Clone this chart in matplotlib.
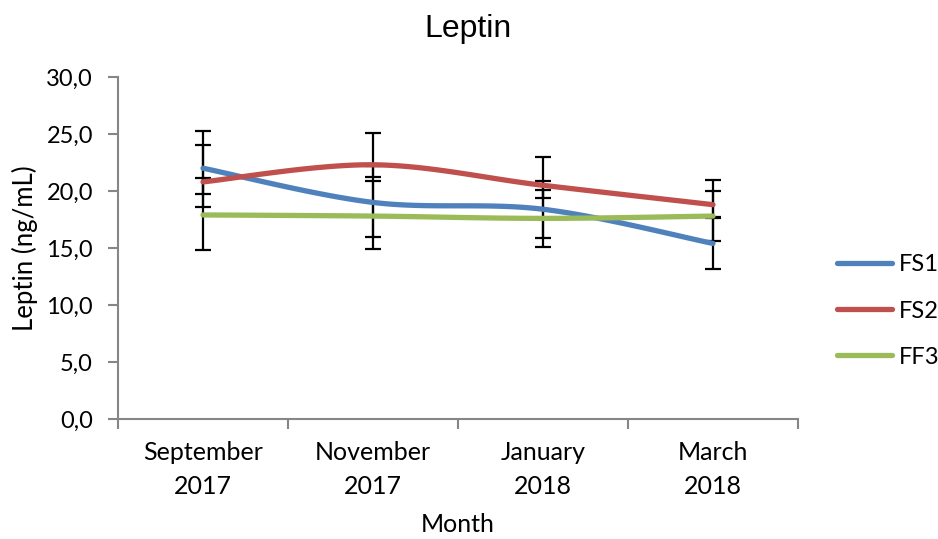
import numpy as np
import matplotlib
matplotlib.use("Agg")
import matplotlib.pyplot as plt

months = ["September\n2017", "November\n2017", "January\n2018", "March\n2018"]
series_names = ["FS1", "FS2", "FF3"]
colors = ["#4F81BD", "#C0504D", "#9BBB59"]

fs1 = [22.0, 19.0, 18.4, 15.4]
fs2 = [20.8, 22.3, 20.5, 18.8]
ff3 = [17.9, 17.8, 17.6, 17.8]

fs1_err_low = [3.4, 3.0, 2.5, 2.2]
fs1_err_high = [3.3, 3.2, 2.5, 2.2]
fs2_err_low = [1.1, 1.1, 1.1, 1.1]
fs2_err_high = [3.2, 2.8, 2.5, 2.2]
ff3_err_low = [3.1, 2.9, 2.5, 2.2]
ff3_err_high = [3.2, 3.1, 2.5, 2.2]

yticks = [0, 5, 10, 15, 20, 25, 30]

values = [fs1, fs2, ff3]
errs_low = [fs1_err_low, fs2_err_low, ff3_err_low]
errs_high = [fs1_err_high, fs2_err_high, ff3_err_high]


def smooth(xs, ys, n=40):
    """Catmull-Rom style Bezier smoothing, as spreadsheet 'smoothed lines' do."""
    p = np.column_stack([xs, ys]).astype(float)
    ext = np.vstack([p[0], p, p[-1]])
    out = []
    for i in range(len(p) - 1):
        p0, p1, p2, p3 = ext[i], ext[i + 1], ext[i + 2], ext[i + 3]
        c1 = p1 + (p2 - p0) / 6.0
        c2 = p2 - (p3 - p1) / 6.0
        t = np.linspace(0, 1, n)[:, None]
        seg = ((1 - t) ** 3) * p1 + 3 * ((1 - t) ** 2) * t * c1 + 3 * (1 - t) * t ** 2 * c2 + t ** 3 * p2
        out.append(seg if i == 0 else seg[1:])
    out = np.vstack(out)
    return out[:, 0], out[:, 1]


body_font = "Lato"
fig = plt.figure(figsize=(9.38, 5.39), dpi=100)
ax = fig.add_axes([118 / 938, 1 - 419 / 539, (798 - 118) / 938, (419 - 77) / 539])

x = np.arange(len(months))
for name, vals, lo, hi, col in zip(series_names, values, errs_low, errs_high, colors):
    ax.errorbar(x, vals, yerr=[lo, hi], fmt="none", ecolor="black",
                elinewidth=1.6, capsize=5.5, capthick=1.6, zorder=2)
for name, vals, col in zip(series_names, values, colors):
    sx, sy = smooth(x, vals)
    ax.plot(sx, sy, color=col, lw=3.8, solid_capstyle="round", label=name, zorder=3)

ax.set_xlim(-0.5, len(months) - 0.5)
ax.set_ylim(0, 30)
ax.set_yticks(yticks)
ax.set_yticklabels([f"{v:.1f}".replace(".", ",") for v in yticks],
                   fontsize=17, family=body_font)
ax.set_xticks(x)
ax.set_xticklabels(months, fontsize=18, family=body_font, linespacing=1.55)
ax.set_xticks(np.arange(-0.5, len(months)), minor=True)
ax.tick_params(axis="x", which="major", length=0, pad=16)
ax.tick_params(axis="x", which="minor", length=7, width=1.5, color="#868686")
ax.tick_params(axis="y", length=7, width=1.5, color="#868686", pad=11)

for s in ["top", "right"]:
    ax.spines[s].set_visible(False)
for s in ["left", "bottom"]:
    ax.spines[s].set_color("#868686")
    ax.spines[s].set_linewidth(1.5)

ax.set_xlabel("Month", fontsize=18, family=body_font, va="center")
ax.xaxis.set_label_coords(0.5, (419 - 525) / 342)
ax.set_ylabel("Leptin (ng/mL)", fontsize=18.5, family=body_font, va="center")
ax.yaxis.set_label_coords((25 - 118) / 680, 0.5)
fig.text(468 / 938, 1 - 29 / 539, "Leptin", ha="center", va="center",
         fontsize=23, family="Liberation Sans")

leg = ax.legend(loc="center left", bbox_to_anchor=((837 - 118) / 680, (419 - 311) / 342),
                frameon=False, borderpad=0, borderaxespad=0,
                prop={"family": body_font, "size": 17}, handlelength=2.35,
                handletextpad=0.25, labelspacing=1.07)

fig.savefig("out.png", dpi=100)
